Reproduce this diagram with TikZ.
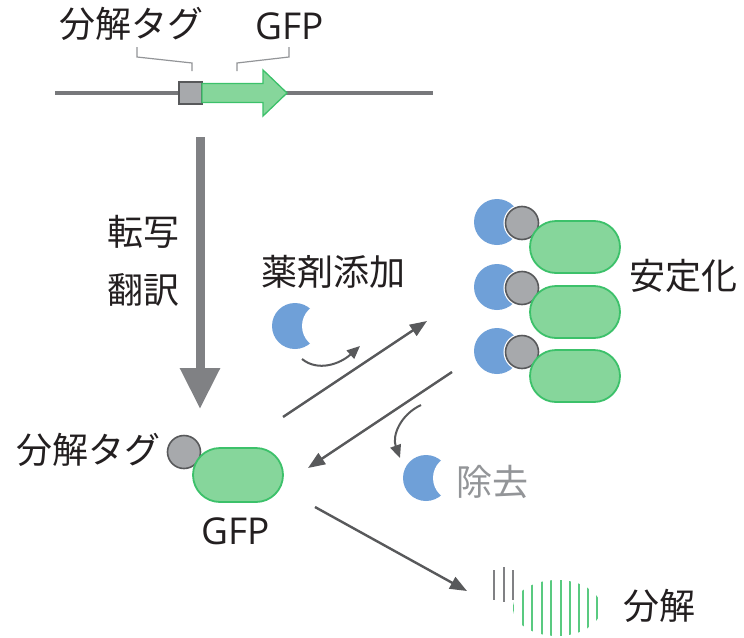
\documentclass[tikz,border=0pt]{standalone}
\usepackage{fontspec}
\setmainfont{Noto Sans CJK JP}
\newfontfamily\latinfont{Open Sans}
\usetikzlibrary{arrows.meta,shapes.misc}
\definecolor{gfpfill}{HTML}{86D69B}
\definecolor{gfpline}{HTML}{3CC16A}
\definecolor{tagfill}{HTML}{A7A9AC}
\definecolor{tagline}{HTML}{58595B}
\definecolor{drug}{HTML}{6FA0D8}
\definecolor{arrowgray}{HTML}{58595B}
\definecolor{biggray}{HTML}{808184}
\definecolor{dnagray}{HTML}{77787B}
\definecolor{labelgray}{HTML}{939598}
\definecolor{ink}{HTML}{231F20}
\tikzset{
  lbl/.style={font=\fontsize{36}{40}\selectfont, text=ink, inner sep=0pt},
  latlbl/.style={font=\latinfont\fontsize{37}{40}\selectfont, text=ink, inner sep=0pt},
  gfppill/.style={rounded rectangle, fill=gfpfill, draw=gfpline, line width=1.8pt,
    minimum width=90pt, minimum height=52pt, inner sep=0pt},
  tagball/.style={circle, fill=tagfill, draw=tagline, line width=1.6pt,
    minimum size=33pt, inner sep=0pt},
  tagring/.style={circle, draw=white, line width=4pt, minimum size=33pt, inner sep=0pt},
  drugball/.style={circle, fill=drug, minimum size=46pt, inner sep=0pt},
  flowarrow/.style={draw=arrowgray, line width=2.4pt, -{Triangle[length=17pt,width=13pt]}},
  curlarrow/.style={draw=arrowgray, line width=2pt, -{Triangle[length=13pt,width=11pt]}},
  leader/.style={draw=labelgray, line width=1.2pt},
}
\newcommand{\moon}[2]{%
  \fill[drug] (#1,#2) circle (23);
  \fill[white] (#1+30,#2) circle (23);
}
\begin{document}
\begin{tikzpicture}[x=1pt,y=-1pt]
\useasboundingbox (0,0) rectangle (744,637);
\fill[white] (0,0) rectangle (744,637);

% --- gene construct ---
\coordinate (dnaL) at (55,93);
\coordinate (dnaR) at (433,93);
\draw[dnagray, line width=4.5pt] (dnaL) -- (dnaR);
\filldraw[fill=tagfill, draw=tagline, line width=1.3pt] (179,82) rectangle (202,104);
\filldraw[fill=gfpfill, draw=gfpline, line width=1.3pt]
  (202,83.5) -- (263,83.5) -- (263,70) -- (287,93) -- (263,116) -- (263,102.5) -- (202,102.5) -- cycle;
\node[lbl] (tagtop) at (131,24) {分解タグ};
\node[latlbl] (gfptop) at (290,26) {GFP};
\draw[leader] (137,47) -- (137,57) -- (192,63) -- (192,71);
\draw[leader] (237,71) -- (237,63) -- (289,57) -- (289,47);

% --- transcription / translation ---
\coordinate (bigS) at (200,137);
\coordinate (bigE) at (200,409);
\draw[biggray, line width=9pt, -{Triangle[length=41pt,width=38pt]}] (bigS) -- (bigE);
\node[lbl] (tx) at (143,232) {転写};
\node[lbl] (tl) at (143,290) {翻訳};

% --- tagged GFP ---
\node[tagball] (tag0) at (184,452) {};
\node[gfppill, minimum height=54pt] (gfp0) at (238,475) {};
\node[lbl, anchor=east] (taglbl) at (161,450) {分解タグ};
\node[latlbl] (gfplbl) at (236,531) {GFP};

% --- stabilised complexes ---
\foreach \i/\y in {1/222,2/287,3/351}{
  \node[drugball] (drug\i) at (497,\y) {};
  \node[tagring] at (522,\y+1) {};
  \node[tagball] (tag\i) at (522,\y+1) {};
  \node[gfppill] (gfp\i) at (575,\y+25) {};
}
\node[lbl] (stab) at (683,276) {安定化};

% --- drug addition ---
\node[lbl] (addlbl) at (333,272) {薬剤添加};
\moon{295}{326}
\coordinate (addS) at (302,359);
\coordinate (addE) at (360,346);
\draw[curlarrow] (addS) .. controls (318,372) and (340,364) .. (addE);
\coordinate (fwdS) at (283,417);
\coordinate (fwdE) at (427,321);
\draw[flowarrow] (fwdS) -- (fwdE);

% --- removal ---
\coordinate (revS) at (452,372);
\coordinate (revE) at (308,468);
\draw[flowarrow] (revS) -- (revE);
\coordinate (remS) at (421,405);
\coordinate (remE) at (400,458);
\draw[curlarrow] (remS) .. controls (400,415) and (392,436) .. (remE);
\moon{426}{478}
\node[lbl, text=labelgray] (remlbl) at (492,482) {除去};

% --- degradation ---
\coordinate (degS) at (315,507);
\coordinate (degE) at (467,591);
\draw[flowarrow] (degS) -- (degE);
\begin{scope}
  \clip (557,608) ellipse (44 and 28);
  \foreach \x/\w in {513/1.6,523/2.6,532/1.6,542/2.8,551/2.8,561/2.8,570/2.8,579/1.8,588/2.8,597/1.6}{
    \draw[gfpline!85, line width=\w pt] (\x,570) -- (\x,640);
  }
\end{scope}
\draw[biggray, line width=1.6pt] (494,570) -- (494,600);
\draw[biggray, line width=2.6pt] (504,567) -- (504,602);
\draw[biggray, line width=1.6pt] (513,570) -- (513,600);
\node[lbl] (deglbl) at (659,606) {分解};
\end{tikzpicture}
\end{document}
